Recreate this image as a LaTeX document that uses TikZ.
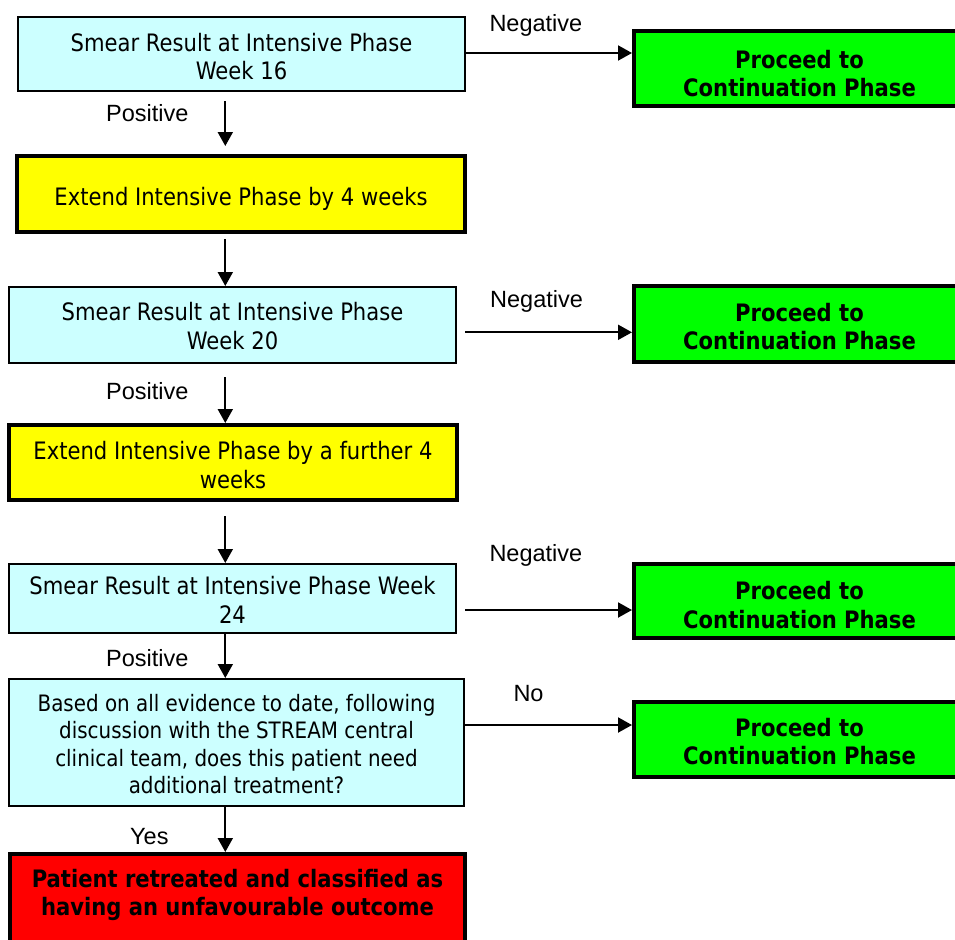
\documentclass[tikz,border=0pt]{standalone}
\usepackage{fontspec}
\usetikzlibrary{arrows.meta}
\newfontfamily\boxfont[FakeStretch=0.88]{DejaVu Sans}
\newfontfamily\labelfont{Liberation Sans}
\definecolor{smearcyan}{HTML}{CCFFFF}
\definecolor{extendyellow}{HTML}{FFFF00}
\definecolor{proceedgreen}{HTML}{00FF00}
\definecolor{retreatred}{HTML}{FF0000}
\tikzset{
  panel/.style={draw=black, inner sep=0pt, rectangle},
  smearbox/.style={panel, fill=smearcyan, line width=1.6bp},
  extendbox/.style={panel, fill=extendyellow, line width=4bp},
  proceedbox/.style={panel, fill=proceedgreen, line width=4bp},
  retreatbox/.style={panel, fill=retreatred, line width=4bp},
  boxtext/.style={inner sep=0pt, align=center, font=\boxfont\fontsize{24bp}{28.5bp}\selectfont},
  boldtext/.style={inner sep=0pt, align=center, font=\boxfont\bfseries\fontsize{24bp}{28.5bp}\selectfont},
  edgelabel/.style={inner sep=0pt, anchor=base west, font=\labelfont\fontsize{23.5bp}{28bp}\selectfont},
  flow/.style={line width=2bp, -{Triangle[length=14bp,width=15bp]}}
}
\begin{document}
\begin{tikzpicture}[x=1bp, y=-1bp]
  \clip (0,0) rectangle (955,940);
  \fill[white] (0,0) rectangle (955,940);

  % main column of boxes
  \node[smearbox, minimum width=447.4bp, minimum height=74.4bp] (b1) at (241.5,54) {};
  \node[extendbox, minimum width=448bp, minimum height=76bp] (y2) at (241,194) {};
  \node[smearbox, minimum width=447.4bp, minimum height=76.4bp] (b3) at (232.5,325) {};
  \node[extendbox, minimum width=448bp, minimum height=75bp] (y4) at (233,462.5) {};
  \node[smearbox, minimum width=447.4bp, minimum height=69.4bp] (b5) at (232.5,598.5) {};
  \node[smearbox, minimum width=455.4bp, minimum height=127.4bp] (b6) at (236.5,742.5) {};
  \node[retreatbox, minimum width=455bp, minimum height=106bp] (r7) at (237.5,907) {};

  % outcome boxes on the right
  \node[proceedbox, minimum width=331bp, minimum height=75bp] (g1) at (799.5,68.5) {};
  \node[proceedbox, minimum width=331bp, minimum height=76bp] (g2) at (799.5,324) {};
  \node[proceedbox, minimum width=331bp, minimum height=74bp] (g3) at (799.5,601) {};
  \node[proceedbox, minimum width=331bp, minimum height=75bp] (g4) at (799.5,739.5) {};

  % box texts
  \node[boxtext] (b1t) at (241.5,56.8) {Smear Result at Intensive Phase\\Week 16};
  \node[boxtext] (y2t) at (241,198.7) {Extend Intensive Phase by 4 weeks};
  \node[boxtext] (b3t) at (232.5,325.9) {Smear Result at Intensive Phase\\Week 20};
  \node[boxtext] (y4t) at (233,464.9) {Extend Intensive Phase by a further 4\\weeks};
  \node[boxtext] (b5t) at (232.5,599.9) {Smear Result at Intensive Phase Week\\24};
  \node[boxtext, font=\boxfont\fontsize{22.6bp}{27.3bp}\selectfont] (b6t) at (236.5,744)
    {Based on all evidence to date, following\\discussion with the STREAM central\\clinical team, does this patient need\\additional treatment?};
  \node[boldtext] (r7t) at (237.5,895.1) {Patient retreated and classified as\\having an unfavourable outcome};
  \node[boldtext] (g1t) at (799.5,73.4) {Proceed to\\Continuation Phase};
  \node[boldtext] (g2t) at (799.5,326.7) {Proceed to\\Continuation Phase};
  \node[boldtext] (g3t) at (799.5,605) {Proceed to\\Continuation Phase};
  \node[boldtext] (g4t) at (799.5,741.7) {Proceed to\\Continuation Phase};

  % vertical connectors
  \coordinate (v1) at (225.3,101);
  \coordinate (v2) at (225.3,239);
  \coordinate (v3) at (225.3,377);
  \coordinate (v4) at (225.3,516);
  \draw[flow, shorten >=8bp] (v1) -- (v1 |- y2.north);
  \draw[flow] (v2) -- (v2 |- b3.north);
  \draw[flow] (v3) -- (v3 |- y4.north);
  \draw[flow] (v4) -- (v4 |- b5.north);
  \draw[flow] (b5.south -| v1) -- (b6.north -| v1);
  \draw[flow] (b6.south -| v1) -- (r7.north -| v1);

  % horizontal connectors
  \coordinate (h1) at (466,53);
  \coordinate (h2) at (465,332.3);
  \coordinate (h3) at (465,610);
  \coordinate (h4) at (465,725);
  \draw[flow] (h1) -- (h1 -| g1.west);
  \draw[flow] (h2) -- (h2 -| g2.west);
  \draw[flow] (h3) -- (h3 -| g3.west);
  \draw[flow] (h4) -- (h4 -| g4.west);

  % connector labels
  \node[edgelabel] (n1) at (489.3,31.7) {Negative};
  \node[edgelabel] (p1) at (106,121.7) {Positive};
  \node[edgelabel] (n2) at (490,307.3) {Negative};
  \node[edgelabel] (p2) at (106,399.3) {Positive};
  \node[edgelabel] (n3) at (489.3,561.7) {Negative};
  \node[edgelabel] (p3) at (106,666.7) {Positive};
  \node[edgelabel] (n4) at (513.3,701.7) {No};
  \node[edgelabel] (ye) at (130,844) {Yes};
\end{tikzpicture}
\end{document}
